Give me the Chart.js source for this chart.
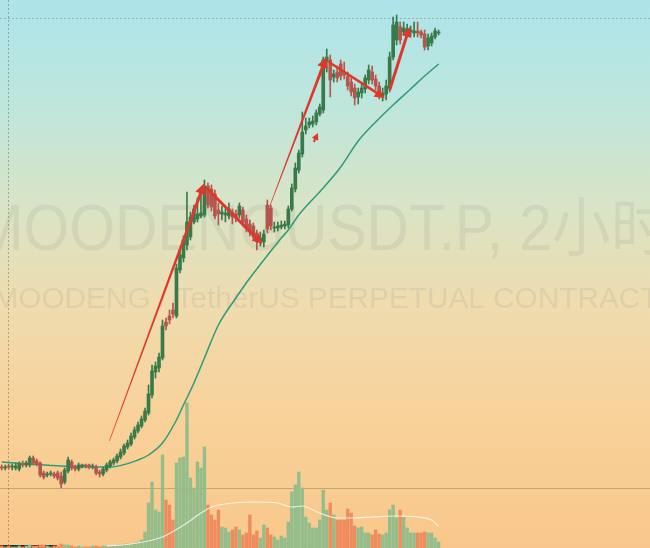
<!DOCTYPE html>
<html><head><meta charset="utf-8">
<script src="https://cdn.jsdelivr.net/npm/chart.js@4.4.1/dist/chart.umd.min.js"></script>
<style>html,body{margin:0;padding:0;background:#f9c78b}#wrap{width:650px;height:548px;position:relative}</style>
</head><body><div id="wrap"><canvas id="c"></canvas></div>
<script>
// MOODENGUSDT.P, 2h — prices in units of 0.001 USDT
const opens = [81,80,82,81,80,79,84,83,83,90, 87,85,75,73,74,74,75,72,66,77, 86,81,79,82,83,83,81,81,76,74,
 78,82,85,87,91,95,101,104,111,117, 122,128,135,153,176,180,190,226,232,238, 232,278,290,303,311,326,329,332,333,362,
 359,354,338,334,333,332,336,334,333,338, 329,324,322,315,307,306,343,340,320,320, 321,322,323,339,359,378,394,418,423,424,
 426,434,438,486,488,471,476,484,476,472, 466,460,451,455,459,468,476,469,462,452, 454,460,491,508,521,516,517,516,515,517,
 516,514,502,505,511,515];
const highs = [83,83,84,84,85,86,87,87,92,92, 89,86,77,76,77,76,77,76,80,91, 88,83,85,84,84,84,84,83,78,81,
 85,88,90,94,99,104,108,115,121,126, 132,140,163,183,186,195,228,230,238,245, 284,298,312,356,336,343,350,358,368,365,
 363,358,345,342,339,345,339,338,345,341, 333,328,325,318,316,318,348,343,326,326, 327,327,342,364,385,398,436,430,430,432,
 438,444,491,499,493,478,482,488,486,476, 470,464,460,464,473,483,482,473,466,460, 468,496,531,533,526,526,524,522,526,526,
 518,518,514,515,520,518];
const lows = [78,78,79,78,78,77,81,81,81,83, 82,71,69,71,72,70,68,60,64,75, 78,77,77,80,80,79,79,73,71,72,
 76,80,83,85,89,93,99,102,109,115, 120,126,133,150,170,176,188,218,224,230, 230,275,286,298,308,324,326,330,331,340,
 337,329,323,328,326,329,324,326,330,322, 316,312,307,298,302,301,315,318,316,317, 319,319,320,337,356,375,391,414,420,421,
 423,432,435,476,451,466,466,468,469,458, 452,443,444,450,455,464,464,458,449,447, 448,456,488,503,504,513,513,512,511,511,
 510,498,498,502,509,513];
const closes = [80,81,81,82,82,84,83,85,90,85, 84,73,71,74,75,72,70,64,78,88, 80,79,83,83,82,81,82,75,74,79,
 83,86,88,92,96,102,105,112,118,123, 129,137,154,177,182,191,222,222,228,234, 280,293,308,326,331,339,334,335,362,343,
 341,332,334,336,335,339,331,330,342,326, 320,316,311,306,310,314,319,322,321,322, 323,324,339,360,380,395,416,422,426,427,
 435,441,488,491,468,474,470,472,473,462, 456,450,456,460,470,478,468,462,453,455, 462,491,523,526,508,520,519,518,517,515,
 513,501,510,512,517,516];
const volumes = [2,1,2,1,1,2,1,2,3,2, 2,3,3,2,1,2,2,4,3,3, 2,1,2,1,1,1,2,2,1,2, 2,2,2,3,3,4,4,4,
 5,6,8,16,45,66,38,36,93,48, 43,28,85,90,91,145,70,60,86,80, 101,43,33,28,38,21,20,16,18,21,
 18,13,15,33,13,17,10,23,20,13, 11,8,12,10,26,56,63,76,60,31, 25,20,20,28,58,38,45,33,28,28,
 28,39,35,22,20,21,15,15,13,18, 14,13,15,38,43,30,38,31,20,15, 15,15,15,16,15,15,10,6];
// moving average of price (index, value)
const maIdx = [0,8,17,28,31,39,42,46,50,52,55,58,62,67,71,75,80,82,85,88,92,97,102,107,112,117,121,125];
const maVal = [86,84,82,81,81,88,93,105,128,143,165,190,223,250,270,288,310,318,333,345,360,381,407,426,443,459,472,484];
// volume moving average (index, value)
const vmaIdx = [30,37,46,53,57,60,62,72,79,83,86,91,96,100,106,112,119,123,125];
const vmaVal = [2,4,11,25,35,41,43,46,45,41,42,35,30,30,31,32,31,28,22];
const slotCount = 186;
const labels = Array.from({length: slotCount}, (_, i) => i);

const UP = '#387a49', DOWN = '#b4564e';
const VUP = '#94bd8c', VDOWN = '#ef8c5e';
const candleColor = opens.map((o, i) => closes[i] >= o ? UP : DOWN);
const volColor = opens.map((o, i) => closes[i] >= o ? VUP : VDOWN);

// annotation arrows in (index, price) units
const arrows = [
  {from:[30.8,107], to:[58,365], w0:0.7, w1:3.2, head:11},
  {from:[58.6,360], to:[74.6,304], w0:3, w1:3, head:10},
  {from:[76.6,341], to:[92.9,491], w0:0.7, w1:3.2, head:11},
  {from:[93.6,486], to:[109.6,450], w0:2.4, w1:2.6, head:10},
  {from:[111,458], to:[116.7,521], w0:3, w1:3, head:10},
  {from:[89.3,406], to:[90.5,415], w0:2, w1:2, head:7}
];

const deco = {
  id: 'deco',
  beforeDraw(chart) {
    const {ctx, width, height} = chart;
    ctx.save();
    const g = ctx.createLinearGradient(0, 0, 0, height);
    g.addColorStop(0, '#ade4ea');
    g.addColorStop(0.18, '#bde6dd');
    g.addColorStop(0.38, '#d9e4c6');
    g.addColorStop(0.55, '#efdcaf');
    g.addColorStop(0.75, '#f8d29a');
    g.addColorStop(1, '#f9c78b');
    ctx.fillStyle = g;
    ctx.fillRect(0, 0, width, height);
    // watermark
    ctx.fillStyle = 'rgba(110,110,110,0.11)';
    ctx.textAlign = 'center';
    ctx.textBaseline = 'alphabetic';
    const lines = [
      {t: 'MOODENGUSDT.P, 2小时', size: 64, cx: 322, w: 695, y: 250},
      {t: 'MOODENG / TetherUS PERPETUAL CONTRACT', size: 30, cx: 326, w: 665, y: 308}
    ];
    lines.forEach(L => {
      ctx.font = L.size + 'px "Liberation Sans", "Noto Sans CJK SC", sans-serif';
      const m = ctx.measureText(L.t).width;
      ctx.save();
      ctx.translate(L.cx, L.y);
      ctx.scale(L.w / m, 1);
      ctx.fillText(L.t, 0, 0);
      ctx.restore();
    });
    ctx.restore();
  },
  beforeDatasetsDraw(chart) {
    const {ctx, width, height, scales} = chart;
    ctx.save();
    // pane separator
    const ys = Math.round(scales.y.getPixelForValue(60)) + 0.5;
    ctx.strokeStyle = 'rgba(140,120,80,0.45)';
    ctx.lineWidth = 1;
    ctx.beginPath(); ctx.moveTo(0, ys); ctx.lineTo(width, ys); ctx.stroke();
    // dotted crosshair lines
    ctx.setLineDash([2, 2]);
    ctx.strokeStyle = 'rgba(120,120,120,0.45)';
    const yt = Math.round(scales.y.getPixelForValue(530)) + 0.5;
    ctx.beginPath(); ctx.moveTo(0, yt); ctx.lineTo(width, yt); ctx.stroke();
    const xv = Math.round(scales.x.getPixelForValue(1.8)) + 0.5;
    ctx.strokeStyle = 'rgba(90,90,90,0.45)';
    ctx.beginPath(); ctx.moveTo(xv, 0); ctx.lineTo(xv, height); ctx.stroke();
    ctx.setLineDash([]);
    ctx.fillStyle = '#2a2a2a';
    ctx.fillRect(0, height - 3, 57, 3);
    ctx.restore();
  },
  afterDatasetsDraw(chart) {
    const {ctx, scales} = chart;
    ctx.save();
    ctx.fillStyle = '#e0372b';
    arrows.forEach(a => {
      const x0 = scales.x.getPixelForValue(a.from[0]), y0 = scales.y.getPixelForValue(a.from[1]);
      const x1 = scales.x.getPixelForValue(a.to[0]), y1 = scales.y.getPixelForValue(a.to[1]);
      const dx = x1 - x0, dy = y1 - y0, len = Math.hypot(dx, dy);
      const ux = dx / len, uy = dy / len, nx = -uy, ny = ux;
      const hl = a.head, hw = a.head * 0.5;
      const ex = x1 - ux * hl * 0.8, ey = y1 - uy * hl * 0.8;
      ctx.beginPath();
      ctx.moveTo(x0 + nx * a.w0 / 2, y0 + ny * a.w0 / 2);
      ctx.lineTo(ex + nx * a.w1 / 2, ey + ny * a.w1 / 2);
      ctx.lineTo(ex - nx * a.w1 / 2, ey - ny * a.w1 / 2);
      ctx.lineTo(x0 - nx * a.w0 / 2, y0 - ny * a.w0 / 2);
      ctx.closePath(); ctx.fill();
      const bx = x1 - ux * hl, by = y1 - uy * hl;
      ctx.beginPath();
      ctx.moveTo(x1, y1);
      ctx.lineTo(bx + nx * hw, by + ny * hw);
      ctx.lineTo(bx - nx * hw, by - ny * hw);
      ctx.closePath(); ctx.fill();
    });
    ctx.restore();
  }
};

new Chart(document.getElementById('c'), {
  type: 'bar',
  data: {
    labels: labels,
    datasets: [
      {label: 'Volume', data: volumes, yAxisID: 'y1', backgroundColor: volColor,
       barThickness: 2.7, grouped: false, order: 6},
      {type: 'line', label: 'Vol MA', data: vmaIdx.map((x, i) => ({x: x, y: vmaVal[i]})), yAxisID: 'y1',
       borderColor: 'rgba(255,255,255,0.75)', borderWidth: 1.2, pointRadius: 0, cubicInterpolationMode: 'monotone', order: 5},
      {type: 'line', label: 'MA', data: maIdx.map((x, i) => ({x: x, y: maVal[i]})), yAxisID: 'y',
       borderColor: '#2e9c7c', borderWidth: 1.5, pointRadius: 0, cubicInterpolationMode: 'monotone', order: 4},
      {label: 'Wick', data: lows.map((l, i) => [l, highs[i]]), yAxisID: 'y', backgroundColor: candleColor,
       barThickness: 1, grouped: false, order: 3},
      {label: 'Body', data: opens.map((o, i) => [o, closes[i]]), yAxisID: 'y', backgroundColor: candleColor,
       barThickness: 3, grouped: false, order: 2}
    ]
  },
  options: {
    responsive: true, maintainAspectRatio: false, animation: false,
    layout: {padding: 0},
    plugins: {legend: {display: false}, tooltip: {enabled: false}},
    scales: {
      x: {display: false, offset: true},
      y: {display: false, min: 0, max: 548},
      y1: {display: false, min: 0, max: 548}
    }
  },
  plugins: [deco]
});
</script>
</body></html>
